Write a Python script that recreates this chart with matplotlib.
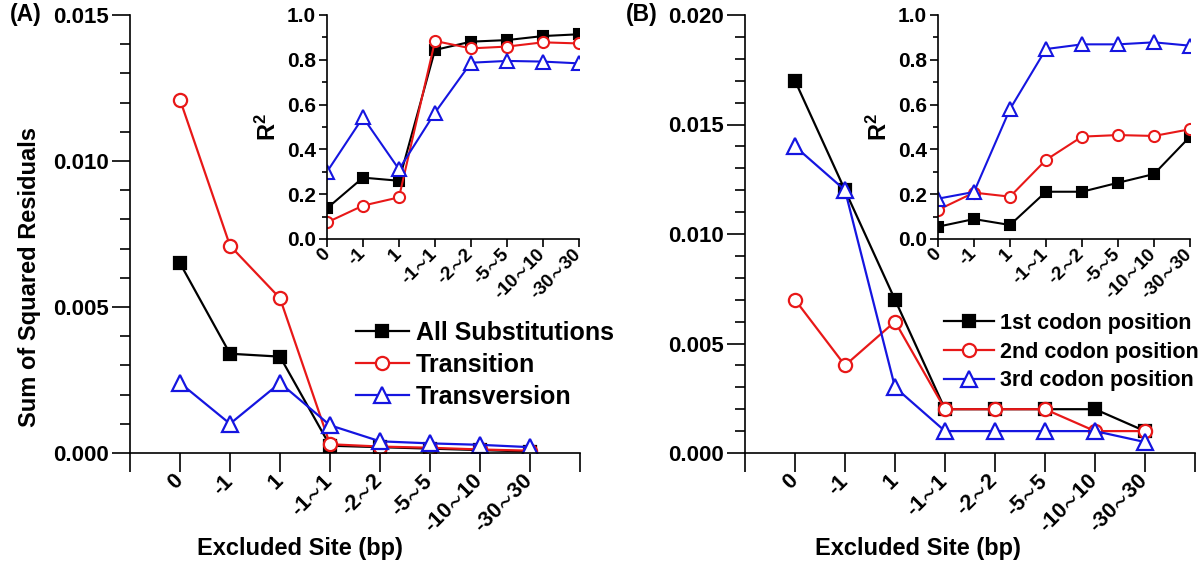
import matplotlib
matplotlib.use("Agg")
import matplotlib.pyplot as plt
from matplotlib.ticker import MultipleLocator, FormatStrFormatter

plt.rcParams["font.family"] = ["Liberation Sans", "DejaVu Sans"]
plt.rcParams["font.weight"] = "bold"
plt.rcParams["axes.linewidth"] = 1.2
plt.rcParams["mathtext.fontset"] = "custom"
plt.rcParams["mathtext.rm"] = "Liberation Sans:bold"
plt.rcParams["mathtext.it"] = "Liberation Sans:bold"
plt.rcParams["mathtext.bf"] = "Liberation Sans:bold"
plt.rcParams["mathtext.fallback"] = "stixsans"

SITES = ["0", "-1", "1", "-1~1", "-2~2", "-5~5", "-10~10", "-30~30"]

# (A) sum of squared residuals
A_ALL = [0.0065, 0.0034, 0.0033, 0.00025, 0.0002, 0.00015, 0.0001, 0.00005]
A_TS = [0.0121, 0.0071, 0.0053, 0.0003, 0.00022, 0.00018, 0.00012, 0.00008]
A_TV = [0.0024, 0.0010, 0.0024, 0.00095, 0.0004, 0.00033, 0.00028, 0.0002]
# (A) inset R^2
A_ALL_R2 = [0.137, 0.274, 0.26, 0.844, 0.881, 0.888, 0.906, 0.914]
A_TS_R2 = [0.074, 0.149, 0.186, 0.884, 0.851, 0.859, 0.878, 0.873]
A_TV_R2 = [0.30, 0.543, 0.311, 0.564, 0.787, 0.795, 0.792, 0.784]

# (B) sum of squared residuals
B_1ST = [0.017, 0.012, 0.007, 0.002, 0.002, 0.002, 0.002, 0.001]
B_2ND = [0.007, 0.004, 0.006, 0.002, 0.002, 0.002, 0.001, 0.001]
B_3RD = [0.014, 0.012, 0.003, 0.001, 0.001, 0.001, 0.001, 0.0005]
# (B) inset R^2
B_1ST_R2 = [0.055, 0.089, 0.0625, 0.211, 0.211, 0.251, 0.29, 0.457]
B_2ND_R2 = [0.13, 0.207, 0.189, 0.353, 0.457, 0.464, 0.46, 0.49]
B_3RD_R2 = [0.18, 0.21, 0.58, 0.848, 0.869, 0.869, 0.878, 0.863]

RED = "#e81818"
BLUE = "#1515e0"
STYLES = [
    dict(color="black", marker="s", mfc="black", mec="black"),
    dict(color=RED, marker="o", mfc="white", mec=RED),
    dict(color=BLUE, marker="^", mfc="white", mec=BLUE),
]

W, H = 1200, 564


def rect(l, t, r, b):
    return [l / W, 1 - b / H, (r - l) / W, (b - t) / H]


def tick_text(s):
    # thin, wide swung dash like the original
    return s.replace("~", r"$\!{\sim}\!$")


def main_axes(fig, box, ymax, series):
    ax = fig.add_axes(rect(*box))
    x = range(len(SITES))
    lines = []
    for ys, st, ms in zip(series, STYLES, (8.5, 9.5, 12)):
        (ln,) = ax.plot(x, ys, lw=1.6, ms=ms, mew=1.6, **st)
        lines.append(ln)
    ax.set_xlim(-1, 8)
    ax.set_ylim(0, ymax)
    ax.spines["top"].set_visible(False)
    ax.spines["right"].set_visible(False)
    ax.set_xticks(range(-1, 9))
    ax.set_xticklabels([""] + [tick_text(s) for s in SITES] + [""], rotation=45,
                       ha="right", va="center", rotation_mode="anchor", fontsize=15.5)
    ax.yaxis.set_major_locator(MultipleLocator(0.005))
    ax.yaxis.set_minor_locator(MultipleLocator(0.001))
    ax.yaxis.set_major_formatter(FormatStrFormatter("%.3f"))
    ax.tick_params(axis="x", length=14, width=1.2, pad=4)
    ax.tick_params(axis="y", which="major", length=13, width=1.2, labelsize=16, pad=2)
    ax.tick_params(axis="y", which="minor", length=7, width=1.2)
    return ax, lines


def inset_axes(fig, box, series):
    ax = fig.add_axes(rect(*box))
    x = range(len(SITES))
    for ys, st, ms in zip(series, STYLES, (7, 8, 9.5)):
        ax.plot(x, ys, lw=1.5, ms=ms, mew=1.5, **st)
    ax.set_xlim(0, 7)
    ax.set_ylim(0, 1)
    ax.spines["top"].set_visible(False)
    ax.spines["right"].set_visible(False)
    ax.set_xticks(range(8))
    ax.set_xticklabels([tick_text(s) for s in SITES], rotation=45, ha="right",
                       va="center", rotation_mode="anchor", fontsize=13.5)
    ax.yaxis.set_major_locator(MultipleLocator(0.2))
    ax.yaxis.set_minor_locator(MultipleLocator(0.1))
    ax.yaxis.set_major_formatter(FormatStrFormatter("%.1f"))
    ax.tick_params(axis="x", length=6, width=1.2, pad=3)
    ax.tick_params(axis="y", which="major", length=6, width=1.2, labelsize=15, pad=2)
    ax.tick_params(axis="y", which="minor", length=3.5, width=1.2)
    ax.set_ylabel(r"$\mathbf{R^2}$", fontsize=17, labelpad=4)
    return ax


fig = plt.figure(figsize=(W / 100, H / 100), dpi=100)

axA, linesA = main_axes(fig, (130, 15, 580, 453), 0.015, [A_ALL, A_TS, A_TV])
inset_axes(fig, (327, 15, 579, 239), [A_ALL_R2, A_TS_R2, A_TV_R2])
axA.legend(linesA, ["All Substitutions", "Transition", "Transversion"],
           loc="upper left", bbox_to_anchor=(356 / W, 1 - 321 / H),
           bbox_transform=fig.transFigure, frameon=False, fontsize=18,
           handlelength=2.1, handletextpad=0.3, labelspacing=0.32, borderpad=0,
           borderaxespad=0)

axB, linesB = main_axes(fig, (745, 15, 1195, 453), 0.020, [B_1ST, B_2ND, B_3RD])
inset_axes(fig, (938, 15, 1190, 239), [B_1ST_R2, B_2ND_R2, B_3RD_R2])
axB.legend(linesB, ["1st codon position", "2nd codon position", "3rd codon position"],
           loc="upper left", bbox_to_anchor=(944 / W, 1 - 313 / H),
           bbox_transform=fig.transFigure, frameon=False, fontsize=15.5,
           handlelength=2.3, handletextpad=0.3, labelspacing=0.35, borderpad=0,
           borderaxespad=0)

fig.text(30 / W, 1 - 277 / H, "Sum of Squared Residuals", rotation=90,
         ha="center", va="center", fontsize=17)
fig.text(300 / W, 1 - 548 / H, "Excluded Site (bp)", ha="center", va="center", fontsize=17)
fig.text(918 / W, 1 - 548 / H, "Excluded Site (bp)", ha="center", va="center", fontsize=17)
fig.text(10 / W, 1 - 15 / H, "(A)", ha="left", va="center", fontsize=16.5)
fig.text(626 / W, 1 - 15 / H, "(B)", ha="left", va="center", fontsize=16.5)

fig.savefig("out.png", dpi=100)
